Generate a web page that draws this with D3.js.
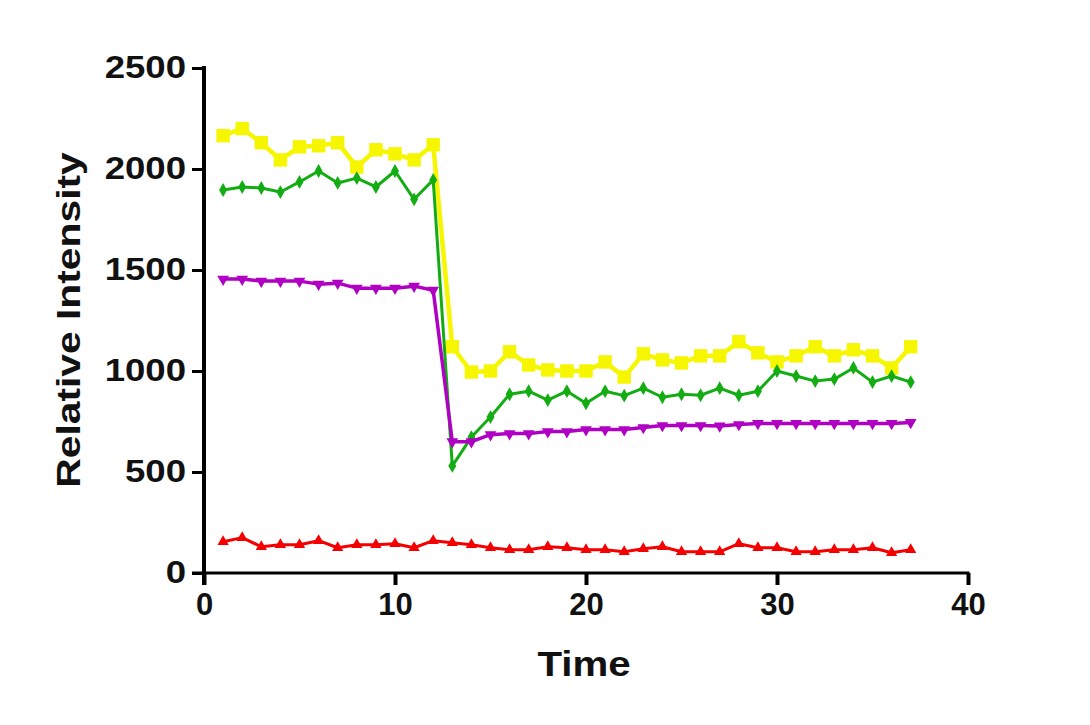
<!DOCTYPE html>
<html>
<head>
<meta charset="utf-8">
<script src="https://cdn.jsdelivr.net/npm/d3@7"></script>
<style>
  body { margin: 0; background: #ffffff; }
  svg text { font-family: "Liberation Sans", Arial, sans-serif; fill: #111; font-weight: bold; }
</style>
</head>
<body>
<svg id="CHART" width="1090" height="725"></svg>
<script>
// time points
var timePoints = [1, 2, 3, 4, 5, 6, 7, 8, 9, 10, 11, 12, 13, 14, 15, 16, 17, 18, 19,
  20, 21, 22, 23, 24, 25, 26, 27, 28, 29, 30, 31, 32, 33, 34, 35, 36, 37];

// series
var yellowVals = [2165, 2200, 2130, 2045, 2110, 2115, 2130, 2010, 2095, 2075, 2045, 2120,
  1120, 995, 1000, 1095, 1030, 1005, 1000, 1000, 1045, 970, 1085, 1055, 1040, 1075, 1075,
  1145, 1090, 1045, 1075, 1120, 1075, 1105, 1075, 1015, 1120];
var greenVals = [1896, 1911, 1906, 1886, 1936, 1990, 1931, 1955, 1911, 1990, 1850, 1946,
  530, 673, 772, 885, 900, 856, 900, 840, 900, 878, 915, 870, 885, 880, 915, 880, 900,
  1000, 975, 950, 960, 1015, 945, 975, 945];
var magentaVals = [1455, 1455, 1445, 1445, 1445, 1430, 1435, 1410, 1410, 1410, 1420, 1400,
  650, 650, 685, 690, 690, 700, 700, 710, 710, 710, 720, 730, 730, 730, 728, 735, 740,
  740, 740, 740, 740, 740, 740, 740, 745];
var redVals = [155, 175, 130, 140, 140, 160, 125, 140, 140, 145, 125, 160, 150, 140, 125,
  115, 115, 130, 125, 115, 115, 105, 120, 130, 105, 105, 105, 145, 125, 125, 105, 105,
  115, 115, 125, 100, 115];

var xTicks = [0, 10, 20, 30, 40];
var yTicks = [0, 500, 1000, 1500, 2000, 2500];

let d3 = window.d3;

const MARGIN = { LEFT: 204, RIGHT: 122, TOP: 68, BOTTOM: 152 };
var width = 1090, height = 725;

let svg = d3.select("#CHART");

let xScale = d3.scaleLinear()
  .domain([0, 40])
  .range([MARGIN.LEFT, width - MARGIN.RIGHT]);

let yScale = d3.scaleLinear()
  .domain([0, 2500])
  .range([height - MARGIN.BOTTOM, MARGIN.TOP]);

// series setup: drawn in this order
var series = [
  { name: "yellow", values: yellowVals, color: "#f6f600", lw: 4.5, symbol: d3.symbolSquare, size: 180, rot: 0 },
  { name: "green", values: greenVals, color: "#13ad13", lw: 3, symbol: d3.symbolDiamond, size: 55, rot: 0 },
  { name: "magenta", values: magentaVals, color: "#b000c4", lw: 3.5, symbol: d3.symbolTriangle, size: 60, rot: 180 },
  { name: "red", values: redVals, color: "#f50000", lw: 3, symbol: d3.symbolTriangle, size: 55, rot: 0 }
];

let plot = svg.append("g").attr("class", "plot");

series.forEach(function (s) {
  let pts = timePoints.map((t, i) => ({ t: t, v: s.values[i] }));
  let line = d3.line()
    .x(d => xScale(d.t))
    .y(d => yScale(d.v));

  plot.append("path")
    .datum(pts)
    .attr("fill", "none")
    .attr("stroke", s.color)
    .attr("stroke-width", s.lw)
    .attr("stroke-linejoin", "round")
    .attr("d", line);

  plot.selectAll("path.mk-" + s.name)
    .data(pts)
    .enter()
    .append("path")
    .attr("class", "mk-" + s.name)
    .attr("d", d3.symbol().type(s.symbol).size(s.size))
    .attr("transform", d => `translate(${xScale(d.t)},${yScale(d.v)}) rotate(${s.rot})`)
    .attr("fill", s.color);
});

// Y axis
let yAxis = d3.axisLeft(yScale).tickValues(yTicks).tickSize(12).tickPadding(6).tickFormat(d3.format("d"));
let gy = svg.append("g")
  .attr("transform", `translate(${MARGIN.LEFT},0)`)
  .call(yAxis);
gy.select(".domain").remove();
gy.append("line")
  .attr("x1", 0).attr("x2", 0)
  .attr("y1", yScale(2500) - 2).attr("y2", yScale(0) + 12)
  .attr("stroke", "#000").attr("stroke-width", 4);
gy.selectAll(".tick line").attr("stroke", "#000").attr("stroke-width", 3);
gy.selectAll(".tick text")
  .attr("font-size", 31)
  .attr("fill", "#111")
  .attr("transform", "scale(1.18,1)")
  .attr("x", -18 / 1.18);

// X axis
let xAxis = d3.axisBottom(xScale).tickValues(xTicks).tickSize(12).tickPadding(8).tickFormat(d3.format("d"));
let gx = svg.append("g")
  .attr("transform", `translate(0,${yScale(0)})`)
  .call(xAxis);
gx.select(".domain").remove();
gx.append("line")
  .attr("x1", MARGIN.LEFT - 12).attr("x2", xScale(40) + 1.5)
  .attr("y1", 0).attr("y2", 0)
  .attr("stroke", "#000").attr("stroke-width", 3);
gx.selectAll(".tick line").attr("stroke", "#000").attr("stroke-width", 4);
gx.selectAll(".tick text")
  .attr("font-size", 31)
  .attr("fill", "#111");

// axis titles
svg.append("text")
  .attr("transform", `translate(${(xScale(0) + xScale(40)) / 2 - 2},${yScale(0) + 103}) scale(1.15,1)`)
  .attr("text-anchor", "middle")
  .attr("font-size", 35)
  .text("Time");

svg.append("text")
  .attr("transform", `translate(80,320) rotate(-90) scale(1.2,1)`)
  .attr("text-anchor", "middle")
  .attr("font-size", 34)
  .text("Relative Intensity");
</script>
</body>
</html>
